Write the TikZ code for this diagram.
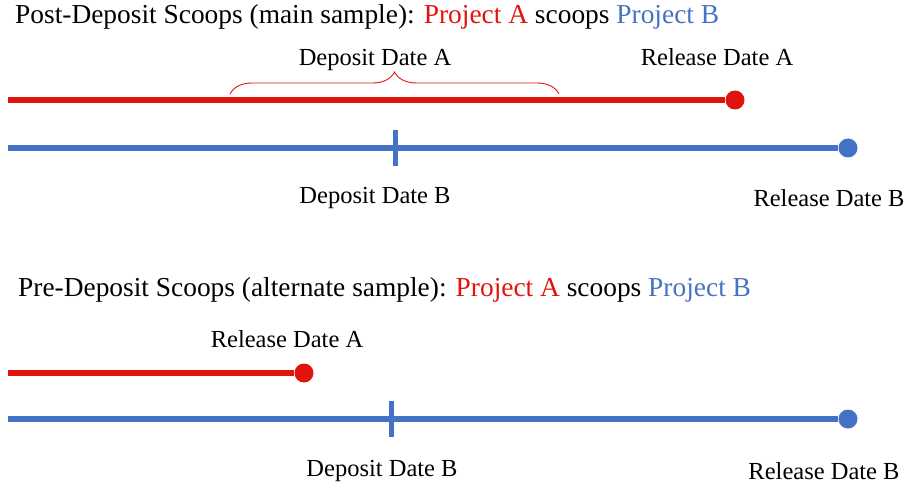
\documentclass[tikz,border=0pt]{standalone}
\usepackage{fontspec}
\setmainfont{Liberation Serif}
\usetikzlibrary{decorations.pathreplacing}
\definecolor{projred}{RGB}{224,20,12}
\definecolor{projblue}{RGB}{68,114,196}
\tikzset{
	title/.style={anchor=west, inner sep=0pt, font=\fontsize{27.4}{31}\selectfont},
	datelabel/.style={inner sep=0pt, font=\fontsize{24.5}{28}\selectfont},
	redline/.style={projred, line width=6pt},
	blueline/.style={projblue, line width=6pt},
	reddot/.style={circle, fill=projred, inner sep=0pt, minimum size=19pt},
	bluedot/.style={circle, fill=projblue, inner sep=0pt, minimum size=19pt},
	tickmark/.style={projblue, line width=5pt}
}
\begin{document}
\begin{tikzpicture}[x=1pt, y=-1pt]
	\useasboundingbox (0,0) rectangle (910,489);
	% post-deposit scoops
	\node[title] (titlePost) at (15,17) {Post-Deposit Scoops (main sample): \textcolor{projred}{Project A} scoops \textcolor{projblue}{Project B}};
	\coordinate (startA) at (8,100);
	\node[reddot] (relA) at (735,100) {};
	\draw[redline] (startA) -- (relA);
	\node[datelabel] (relAlab) at (717,57) {Release Date A};
	\coordinate (braceL) at (230,94);
	\coordinate (braceR) at (559,94);
	\draw[projred, line width=0.9pt, decorate, decoration={brace, amplitude=22pt}] (braceL) -- (braceR);
	\node[datelabel] (depAlab) at (375,60) {Deposit Date A};
	\coordinate (startB) at (8,148);
	\node[bluedot] (relB) at (848,148) {};
	\draw[blueline] (startB) -- (relB);
	\coordinate (depBtop) at (395,130);
	\coordinate (depBbot) at (395,166);
	\draw[tickmark] (depBtop) -- (depBbot);
	\node[datelabel] (depBlab) at (375,198) {Deposit Date B};
	\node[datelabel] (relBlab) at (829,198) {Release Date B};
	% pre-deposit scoops
	\node[title] (titlePre) at (18,290) {Pre-Deposit Scoops (alternate sample): \textcolor{projred}{Project A} scoops \textcolor{projblue}{Project B}};
	\coordinate (startA2) at (8,373);
	\node[reddot] (relA2) at (304,373) {};
	\draw[redline] (startA2) -- (relA2);
	\node[datelabel] (relA2lab) at (287,339) {Release Date A};
	\coordinate (startB2) at (8,419);
	\node[bluedot] (relB2) at (848,419) {};
	\draw[blueline] (startB2) -- (relB2);
	\coordinate (depB2top) at (391,401);
	\coordinate (depB2bot) at (391,437);
	\draw[tickmark] (depB2top) -- (depB2bot);
	\node[datelabel] (depB2lab) at (382,471) {Deposit Date B};
	\node[datelabel] (relB2lab) at (824,471) {Release Date B};
\end{tikzpicture}
\end{document}
